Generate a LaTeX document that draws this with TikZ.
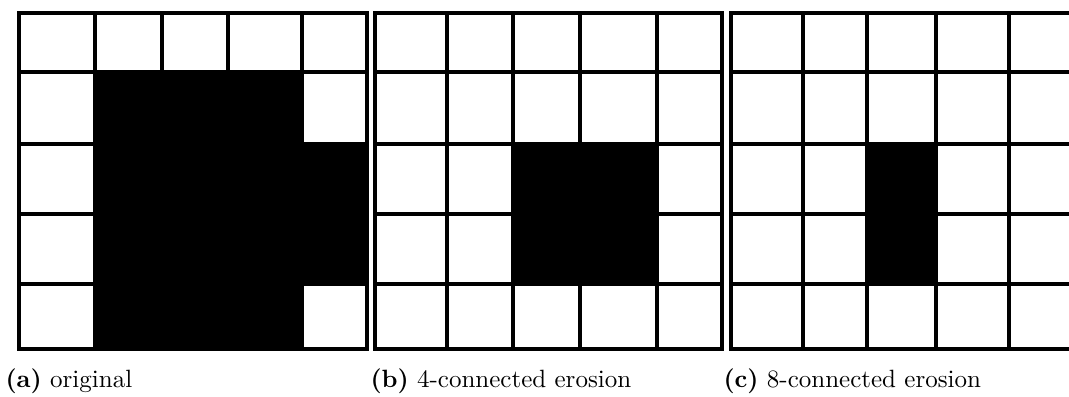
\documentclass[tikz,border=0pt]{standalone}
\usepackage{tikz}
\tikzset{
	gridline/.style={line width=1.8pt, black, line cap=rect}
}
\tikzset{
	captiontext/.style={font=\normalsize, anchor=base west, inner sep=0pt}
}

\begin{document}
\begin{tikzpicture}[x=0.4pt, y=-0.4pt]
      \useasboundingbox (0,0) rectangle (1069,396);
      \clip (0,0) rectangle (1069,396);

      % (a) the original shape, filled pixels under the grid
      \fill (95,72) rectangle (302,349);
      \fill (302,144) rectangle (367,284);
      \foreach \x in {19,95,162,228,302,367}
        \draw[gridline] (\x,13) -- (\x,349);
      \foreach \y in {13,72,144,214,284,349}
        \draw[gridline] (19,\y) -- (367,\y);

      % (b) after 4-connected erosion
      \fill (513,144) rectangle (657,284);
      \foreach \x in {375,447,513,580,657,722}
        \draw[gridline] (\x,13) -- (\x,349);
      \foreach \y in {13,72,144,214,284,349}
        \draw[gridline] (375,\y) -- (722,\y);

      % (c) after 8-connected erosion (runs off the right edge)
      \fill (867,144) rectangle (936,284);
      \foreach \x in {731,803,867,936,1009,1080}
        \draw[gridline] (\x,13) -- (\x,349);
      \foreach \y in {13,72,144,214,284,349}
        \draw[gridline] (731,\y) -- (1080,\y);

      \node[captiontext] (capa) at (5,387) {\textbf{(a)} original};
      \node[captiontext] (capb) at (370,387) {\textbf{(b)} 4-connected erosion};
      \node[captiontext] (capc) at (723,387) {\textbf{(c)} 8-connected erosion};
    \end{tikzpicture}
\end{document}
